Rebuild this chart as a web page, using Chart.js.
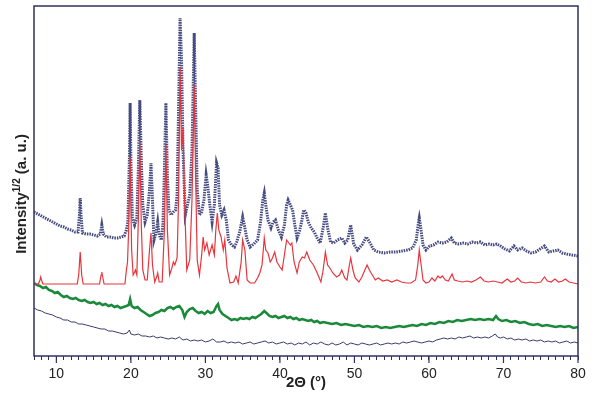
<!DOCTYPE html>
<html>
<head>
<meta charset="utf-8">
<script src="https://cdn.jsdelivr.net/npm/chart.js@4"></script>
<style>
  body { margin: 0; background: #fff; }
  #wrap { width: 600px; height: 396px; }
</style>
</head>
<body>
<div id="wrap"><canvas id="chartContainer" width="600" height="396"></canvas></div>
<script>
// 2-theta range and labelled ticks
const xMin = 7;
const xMax = 80;
const majorTicks = [10, 20, 30, 40, 50, 60, 70, 80];

// calculated pattern (red), [2theta, intensity]
const calculated = [
  [7.0, 72], [7.6, 72], [7.8, 76], [7.9, 79], [8.0, 76], [8.2, 72], [12.8, 72], [13.0, 81],
  [13.2, 104], [13.4, 81], [13.6, 72], [15.8, 72], [16.0, 81], [16.1, 84], [16.2, 80], [16.4, 72],
  [19.2, 72], [19.4, 86], [19.55, 94], [19.7, 126], [19.9, 199], [20.1, 106], [20.3, 81], [20.5, 84],
  [20.6, 86], [20.8, 81], [21.0, 136], [21.2, 214], [21.4, 131], [21.6, 86], [21.9, 76], [22.2, 76],
  [22.5, 106], [22.7, 123], [22.9, 91], [23.2, 74], [23.5, 80], [23.6, 83], [23.8, 74], [24.2, 74],
  [24.5, 126], [24.7, 211], [24.9, 126], [25.2, 81], [25.5, 88], [25.7, 94], [25.9, 91], [26.2, 98],
  [26.4, 156], [26.6, 289], [26.8, 206], [27.0, 229], [27.2, 156], [27.5, 86], [27.9, 96], [28.2, 156],
  [28.5, 271], [28.7, 176], [28.9, 96], [29.2, 81], [29.5, 101], [29.7, 119], [29.9, 106], [30.2, 113],
  [30.5, 101], [30.9, 111], [31.2, 101], [31.4, 126], [31.6, 143], [31.8, 126], [32.1, 119], [32.4, 106],
  [32.6, 116], [32.9, 88], [33.3, 73], [33.8, 74], [34.1, 80], [34.4, 73], [34.8, 94], [35.0, 116],
  [35.3, 106], [35.6, 76], [36.0, 73], [36.6, 73], [37.0, 78], [37.3, 83], [37.6, 91], [37.9, 118],
  [38.1, 106], [38.4, 103], [38.7, 94], [39.0, 98], [39.3, 104], [39.6, 94], [40.0, 89], [40.3, 86],
  [40.6, 101], [40.9, 116], [41.1, 114], [41.4, 111], [41.6, 113], [41.9, 94], [42.3, 83], [42.6, 94],
  [43.0, 99], [43.3, 98], [43.6, 104], [44.0, 96], [44.5, 91], [45.0, 83], [45.5, 74], [45.8, 86],
  [46.1, 104], [46.4, 91], [46.7, 88], [47.1, 83], [47.6, 79], [48.0, 81], [48.3, 86], [48.7, 78],
  [49.0, 76], [49.3, 90], [49.5, 98], [49.8, 86], [50.1, 78], [50.6, 74], [51.0, 79], [51.4, 86],
  [51.7, 91], [52.0, 86], [52.4, 81], [52.8, 76], [53.2, 78], [53.8, 75], [54.4, 76], [55.0, 74],
  [55.7, 76], [56.3, 74], [57.0, 73], [57.6, 73], [58.2, 76], [58.5, 91], [58.7, 106], [58.9, 94],
  [59.2, 76], [59.6, 73], [60.0, 74], [60.4, 78], [60.8, 75], [61.2, 80], [61.5, 78], [61.8, 80],
  [62.2, 76], [62.6, 75], [63.1, 82], [63.4, 76], [63.9, 75], [64.5, 74], [65.1, 75], [65.7, 74],
  [66.3, 76], [66.9, 79], [67.4, 75], [68.0, 74], [68.6, 75], [69.2, 74], [69.8, 73], [70.5, 77],
  [71.0, 74], [71.5, 75], [71.9, 78], [72.4, 74], [73.0, 73], [73.6, 74], [74.3, 73], [75.0, 74],
  [75.5, 79], [75.9, 75], [76.4, 74], [76.9, 77], [77.4, 74], [77.9, 75], [78.3, 77], [78.8, 74],
  [79.4, 73], [80.0, 72]
];

// observed pattern (navy dots)
const observed = [
  [7.0, 144], [7.5, 142], [8.0, 140], [8.5, 138], [9.0, 136], [9.5, 134], [10.0, 132], [10.5, 130],
  [11.0, 129], [11.5, 127], [12.0, 126], [12.5, 124], [12.9, 124], [13.1, 141], [13.2, 158], [13.3, 142],
  [13.5, 123], [14.0, 122], [14.5, 122], [15.0, 121], [15.5, 120], [15.9, 122], [16.1, 131], [16.3, 122],
  [16.7, 119], [17.2, 119], [17.7, 118], [18.2, 118], [18.7, 119], [19.1, 120], [19.4, 126], [19.6, 134],
  [19.8, 196], [19.9, 253], [20.0, 196], [20.2, 138], [20.5, 131], [20.8, 138], [21.0, 186], [21.2, 256],
  [21.4, 196], [21.6, 151], [21.9, 134], [22.2, 141], [22.5, 166], [22.7, 193], [22.9, 156], [23.1, 116],
  [23.4, 124], [23.6, 134], [23.8, 121], [24.1, 116], [24.3, 131], [24.5, 186], [24.7, 253], [24.9, 181],
  [25.1, 146], [25.4, 141], [25.7, 144], [26.0, 146], [26.2, 161], [26.4, 246], [26.6, 338], [26.8, 296],
  [27.0, 206], [27.3, 141], [27.6, 151], [27.9, 161], [28.2, 206], [28.5, 323], [28.7, 246], [28.9, 166],
  [29.2, 141], [29.5, 144], [29.8, 156], [30.1, 181], [30.3, 171], [30.6, 151], [30.9, 134], [31.2, 151],
  [31.5, 193], [31.7, 188], [31.9, 151], [32.2, 141], [32.5, 146], [32.8, 136], [33.1, 116], [33.5, 111],
  [33.9, 109], [34.2, 114], [34.6, 124], [35.0, 139], [35.3, 128], [35.6, 116], [36.0, 109], [36.5, 112],
  [37.0, 116], [37.4, 134], [37.7, 156], [37.9, 163], [38.1, 151], [38.4, 136], [38.8, 128], [39.1, 134],
  [39.4, 136], [39.8, 126], [40.2, 119], [40.6, 131], [40.9, 151], [41.1, 156], [41.4, 151], [41.7, 146],
  [42.0, 131], [42.3, 118], [42.6, 124], [42.9, 134], [43.2, 146], [43.5, 143], [43.8, 134], [44.2, 128],
  [44.6, 124], [45.0, 118], [45.4, 113], [45.8, 128], [46.1, 143], [46.4, 128], [46.8, 114], [47.2, 113],
  [47.7, 116], [48.3, 118], [48.7, 113], [49.1, 116], [49.5, 131], [49.9, 112], [50.4, 106], [51.0, 111],
  [51.6, 119], [52.1, 113], [52.6, 106], [53.2, 104], [54.0, 103], [54.8, 104], [55.6, 104], [56.4, 105],
  [57.2, 106], [57.8, 108], [58.3, 116], [58.6, 134], [58.7, 138], [58.9, 128], [59.2, 111], [59.6, 106],
  [60.1, 110], [60.6, 111], [61.2, 114], [61.8, 113], [62.4, 114], [63.0, 118], [63.4, 113], [64.0, 112],
  [64.6, 113], [65.2, 112], [65.8, 114], [66.4, 113], [66.9, 114], [67.5, 111], [68.1, 112], [68.6, 111],
  [69.1, 112], [69.6, 110], [70.2, 107], [70.8, 105], [71.4, 110], [71.9, 106], [72.5, 108], [73.1, 105],
  [73.7, 103], [74.3, 104], [74.9, 107], [75.5, 110], [76.1, 104], [76.7, 105], [77.3, 106], [77.9, 103],
  [78.5, 102], [79.2, 101], [80.0, 100]
];

// green trace
const greenTrace = [
  [7.0, 73], [7.4, 71], [7.8, 70], [8.2, 68], [8.6, 69], [9.0, 66], [9.4, 65], [9.8, 63],
  [10.2, 64], [10.6, 61], [11.0, 59], [11.4, 60], [11.8, 58], [12.2, 57], [12.6, 58], [13.0, 56],
  [13.4, 55], [13.8, 56], [14.2, 54], [14.6, 53], [15.0, 54], [15.4, 52], [15.8, 53], [16.2, 51],
  [16.6, 52], [17.0, 50], [17.4, 51], [17.8, 49], [18.2, 50], [18.6, 48], [19.0, 49], [19.4, 50],
  [19.7, 51], [19.9, 57], [20.1, 50], [20.5, 48], [20.9, 49], [21.3, 46], [21.7, 44], [22.1, 42],
  [22.5, 40], [22.9, 41], [23.3, 43], [23.7, 44], [24.1, 46], [24.5, 45], [24.9, 48], [25.3, 49],
  [25.7, 47], [26.1, 49], [26.5, 50], [26.9, 46], [27.2, 39], [27.5, 44], [27.9, 47], [28.3, 48],
  [28.7, 45], [29.1, 43], [29.5, 44], [29.9, 42], [30.3, 45], [30.7, 43], [31.1, 44], [31.5, 50],
  [31.7, 52], [31.9, 46], [32.3, 42], [32.7, 40], [33.1, 38], [33.5, 36], [33.9, 37], [34.3, 36],
  [34.7, 38], [35.1, 37], [35.5, 38], [35.9, 37], [36.3, 39], [36.7, 38], [37.1, 40], [37.5, 42],
  [37.9, 45], [38.2, 43], [38.6, 40], [39.0, 39], [39.4, 40], [39.8, 38], [40.2, 39], [40.6, 40],
  [41.0, 38], [41.4, 39], [41.8, 37], [42.2, 38], [42.6, 36], [43.0, 37], [43.4, 36], [43.8, 35],
  [44.2, 36], [44.6, 34], [45.0, 35], [45.4, 33], [45.8, 34], [46.4, 33], [47.0, 32], [47.6, 33],
  [48.2, 31], [48.8, 32], [49.4, 31], [50.0, 30], [50.6, 31], [51.2, 29], [51.8, 30], [52.4, 29],
  [53.0, 30], [53.6, 28], [54.2, 29], [54.8, 28], [55.4, 29], [56.0, 30], [56.6, 29], [57.2, 30],
  [57.8, 31], [58.4, 30], [59.0, 32], [59.6, 31], [60.2, 33], [60.8, 32], [61.4, 34], [62.0, 33],
  [62.6, 35], [63.2, 34], [63.8, 36], [64.4, 35], [65.0, 36], [65.6, 37], [66.2, 36], [66.8, 37],
  [67.4, 36], [68.0, 37], [68.6, 36], [69.0, 40], [69.3, 37], [69.8, 35], [70.4, 36], [71.0, 34],
  [71.6, 35], [72.2, 33], [72.8, 34], [73.4, 32], [74.0, 31], [74.6, 32], [75.2, 30], [75.8, 31],
  [76.4, 30], [77.0, 29], [77.6, 30], [78.2, 29], [78.8, 30], [79.4, 28], [80.0, 29]
];

// bottom grey trace
const greyTrace = [
  [7.0, 48], [7.5, 46], [8.0, 45], [8.5, 43], [9.0, 42], [9.5, 41], [10.0, 39], [10.5, 38],
  [11.0, 36], [11.5, 36], [12.0, 34], [12.5, 34], [13.0, 32], [13.5, 32], [14.0, 31], [14.5, 30],
  [15.0, 29], [15.5, 28], [16.0, 27], [16.5, 27], [17.0, 25], [17.5, 25], [18.0, 24], [18.5, 23],
  [19.0, 22], [19.5, 23], [19.8, 26], [20.0, 22], [20.5, 21], [21.0, 22], [21.5, 20], [22.0, 20],
  [22.5, 19], [23.0, 20], [23.5, 18], [24.0, 19], [24.5, 18], [25.0, 17], [25.5, 18], [26.0, 17],
  [26.5, 19], [27.0, 16], [27.5, 17], [28.0, 15], [28.5, 16], [29.0, 15], [29.5, 16], [30.0, 14],
  [30.5, 15], [31.0, 17], [31.5, 14], [32.0, 14], [32.5, 15], [33.0, 13], [33.5, 14], [34.0, 13],
  [34.5, 14], [35.0, 12], [35.5, 13], [36.0, 14], [36.5, 12], [37.0, 13], [37.5, 14], [38.0, 15],
  [38.5, 13], [39.0, 14], [39.5, 12], [40.0, 13], [40.5, 14], [41.0, 12], [41.5, 13], [42.0, 11],
  [42.5, 13], [43.0, 12], [43.5, 14], [44.0, 11], [44.5, 13], [45.0, 12], [45.5, 14], [46.0, 12],
  [46.5, 11], [47.0, 13], [47.5, 11], [48.0, 12], [48.5, 14], [49.0, 11], [49.5, 13], [50.0, 12],
  [50.5, 11], [51.0, 13], [51.5, 12], [52.0, 11], [52.5, 12], [53.0, 13], [53.5, 11], [54.0, 12],
  [54.5, 13], [55.0, 12], [55.5, 13], [56.0, 12], [56.5, 14], [57.0, 13], [57.5, 14], [58.0, 15],
  [58.5, 14], [59.0, 13], [59.5, 14], [60.0, 15], [60.5, 14], [61.0, 16], [61.5, 17], [62.0, 18],
  [62.5, 17], [63.0, 18], [63.5, 17], [64.0, 19], [64.5, 18], [65.0, 19], [65.5, 20], [66.0, 18],
  [66.5, 19], [67.0, 18], [67.5, 19], [68.0, 18], [68.5, 20], [68.9, 22], [69.2, 19], [69.6, 18],
  [70.0, 19], [70.5, 17], [71.0, 18], [71.5, 16], [72.0, 17], [72.5, 16], [73.0, 17], [73.5, 15],
  [74.0, 16], [74.5, 15], [75.0, 16], [75.5, 14], [76.0, 15], [76.5, 14], [77.0, 15], [77.5, 13],
  [78.0, 14], [78.5, 15], [79.0, 13], [79.5, 14], [80.0, 13]
];

const toXY = pairs => pairs.map(([x, y]) => ({ x: x, y: y }));
const axisColor = '#2e3160';

// frame, long major ticks and the y title with its superscript
const extras = {
  id: 'extras',
  afterDraw(chart) {
    const ctx = chart.ctx;
    const a = chart.chartArea;
    const x = chart.scales.x;
    ctx.save();
    ctx.strokeStyle = axisColor;
    ctx.lineWidth = 1.5;
    ctx.strokeRect(a.left, a.top, a.right - a.left, a.bottom - a.top);
    ctx.lineWidth = 1.2;
    majorTicks.forEach(v => {
      const px = x.getPixelForValue(v);
      ctx.beginPath();
      ctx.moveTo(px, a.bottom);
      ctx.lineTo(px, a.bottom + 7);
      ctx.stroke();
    });

    ctx.translate(22, 194);
    ctx.rotate(-Math.PI / 2);
    ctx.fillStyle = '#222';
    ctx.textBaseline = 'middle';
    const big = 'bold 15px "Liberation Sans", Arial, sans-serif';
    const small = 'bold 10px "Liberation Sans", Arial, sans-serif';
    ctx.font = big;
    const w1 = ctx.measureText('Intensity').width;
    const w3 = ctx.measureText(' (a. u.)').width;
    ctx.font = small;
    const w2 = ctx.measureText('1/2').width;
    let pos = -(w1 + w2 + w3) / 2;
    ctx.font = big;
    ctx.fillText('Intensity', pos, 0);
    pos += w1;
    ctx.font = small;
    ctx.fillText('1/2', pos, -5);
    pos += w2;
    ctx.font = big;
    ctx.fillText(' (a. u.)', pos, 0);
    ctx.restore();
  }
};

let chartContainer = document.getElementById('chartContainer').getContext('2d');
let chart = new Chart(chartContainer, {
  type: 'line',
  data: {
    datasets: [{
      label: 'calculated',
      data: toXY(calculated),
      borderColor: '#e8353c',
      borderWidth: 1.2,
      pointRadius: 0,
      tension: 0,
      fill: false
    },
    {
      label: 'observed',
      data: toXY(observed),
      borderColor: '#454a80',
      borderWidth: 3,
      borderDash: [1.5, 1],
      pointRadius: 0,
      tension: 0,
      fill: false
    },
    {
      label: 'green',
      data: toXY(greenTrace),
      borderColor: '#1a8a3a',
      borderWidth: 2.5,
      pointRadius: 0,
      tension: 0,
      fill: false
    },
    {
      label: 'grey',
      data: toXY(greyTrace),
      borderColor: '#3a3d6b',
      borderWidth: 1,
      pointRadius: 0,
      tension: 0,
      fill: false
    }]
  },
  options: {
    responsive: false,
    animation: false,
    layout: { padding: { top: 6, right: 22, left: 0, bottom: 0 } },
    plugins: {
      legend: { display: false },
      tooltip: { enabled: false }
    },
    scales: {
      x: {
        type: 'linear',
        min: xMin,
        max: xMax,
        afterFit: s => { s.height = 40; },
        border: { display: false },
        grid: { drawOnChartArea: false, tickLength: 4, color: axisColor, lineWidth: 1 },
        ticks: {
          stepSize: 1,
          autoSkip: false,
          maxRotation: 0,
          padding: 6,
          color: '#222',
          font: { family: '"Liberation Sans", Arial, sans-serif', size: 14 },
          callback: v => (majorTicks.includes(v) ? v : '')
        },
        title: {
          display: true,
          text: '2Θ (°)',
          color: '#222',
          padding: { top: 0, bottom: 4 },
          font: { family: '"Liberation Sans", Arial, sans-serif', size: 15, weight: 'bold' }
        }
      },
      y: {
        min: 0,
        max: 350,
        afterFit: s => { s.width = 34; },
        border: { display: false },
        grid: { display: false },
        ticks: { display: false }
      }
    }
  },
  plugins: [extras]
});
</script>
</body>
</html>
